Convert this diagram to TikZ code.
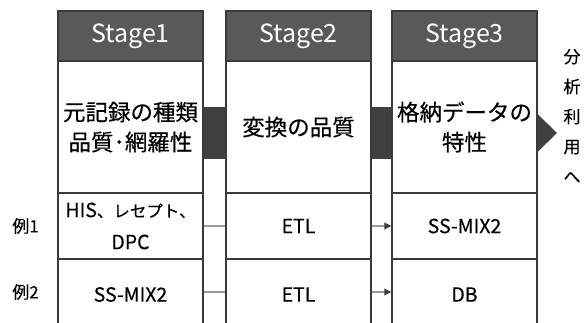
\documentclass[tikz,border=0pt]{standalone}
\usepackage{fontspec}
\setmainfont{Noto Sans CJK JP}[FakeBold=0.35]
\newfontfamily\hdrfont{Noto Sans CJK JP}
\usetikzlibrary{arrows.meta}
\definecolor{frame}{HTML}{3A3A3A}
\definecolor{hdrfill}{HTML}{595959}
\definecolor{barfill}{HTML}{404040}
\definecolor{connc}{HTML}{999999}
\newcommand{\kanasize}{\fontsize{16.5}{32}\selectfont}
\tikzset{
  box/.style={draw=frame, line width=1.5pt, minimum width=145pt, inner sep=0pt, align=center, fill=white},
  hdr/.style={box, fill=hdrfill, text=white, minimum height=50pt, font=\hdrfont\fontsize{25}{28}\selectfont},
  body/.style={box, minimum height=132pt, font=\fontsize{22.5}{30}\selectfont},
  rowa/.style={box, minimum height=66pt, font=\fontsize{19.5}{32}\selectfont},
  rowb/.style={box, minimum height=71pt, font=\fontsize{19.5}{32}\selectfont},
  bar/.style={fill=barfill, draw=none, minimum width=23pt, minimum height=52pt, inner sep=0pt},
  conn/.style={draw=connc, line width=1.1pt},
  ex/.style={font=\fontsize{17}{18}\selectfont},
  vert/.style={font=\fontsize{17}{24}\selectfont, align=center, inner sep=0pt},
}
\begin{document}
\begin{tikzpicture}[x=1pt,y=-1pt]
\useasboundingbox (0,0) rectangle (587,322);
\clip (0,0) rectangle (587,322);
% bars between stages
\node[bar] (bar12) at (214.5,133) {};
\node[bar, minimum width=21pt] (bar23) at (381.5,133) {};
% stage 1
\node[hdr] (h1) at (130.5,36) {Stage1};
\node[body] (b1) at (130.5,127) {元記録の種類\\品質･網羅性};
\node[rowa] (r1a) at (130.5,226) {HIS{\kanasize 、レセプト、}\\DPC};
\node[rowb] (r2a) at (130.5,294.5) {SS-MIX2};
% stage 2
\node[hdr] (h2) at (298.5,36) {Stage2};
\node[body] (b2) at (298.5,127) {変換の品質};
\node[rowa] (r1b) at (298.5,226) {ETL};
\node[rowb] (r2b) at (298.5,294.5) {ETL};
% stage 3
\node[hdr] (h3) at (464.5,36) {Stage3};
\node[body] (b3) at (464.5,127) {格納データの\\特性};
\node[rowa] (r1c) at (464.5,226) {SS-MIX2};
\node[rowb] (r2c) at (464.5,294.5) {DB};
% output arrow
\coordinate (t1) at (537.5,114);
\coordinate (t2) at (557,133);
\coordinate (t3) at (537.5,152);
\fill[barfill] (t1) -- (t2) -- (t3) -- cycle;
\node[vert] (out) at (572,116) {分\\[6pt]析\\[6pt]利\\[6pt]用\\[6pt]へ};
% examples
\node[ex] (e1) at (25.5,226) {例1};
\node[ex] (e2) at (25.5,292) {例2};
% connectors
\draw[conn] (r1a.east |- e1) -- (r1b.west |- e1);
\draw[conn] (r2a.east |- e2) -- (r2b.west |- e2);
\draw[conn, -{Triangle[length=7pt,width=7pt,color=barfill]}] (r1b.east |- e1) -- (r1c.west |- e1);
\draw[conn, -{Triangle[length=7pt,width=7pt,color=barfill]}] (r2b.east |- e2) -- (r2c.west |- e2);
\end{tikzpicture}
\end{document}
